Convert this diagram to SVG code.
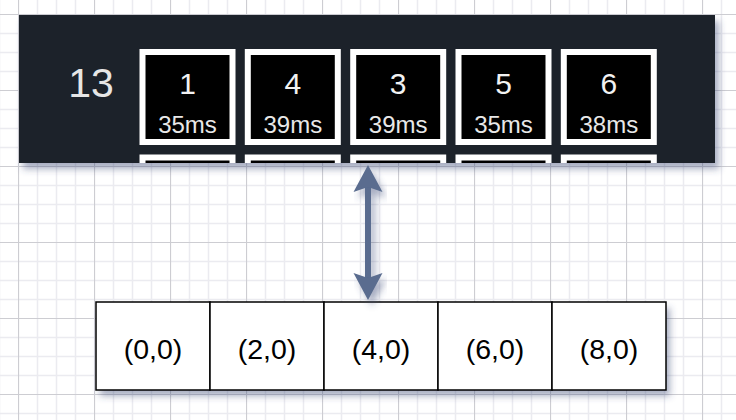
<svg xmlns="http://www.w3.org/2000/svg" width="736" height="420" viewBox="0 0 736 420">
  <style>
    .cell { fill: #ffffff; stroke: #000000; stroke-width: 1.5; }
    .ctext { font-family: "Liberation Sans", Arial, sans-serif; font-size: 28.5px; fill: #000000; text-anchor: middle; }
    .tile { fill: #000000; stroke: #ffffff; stroke-width: 6; }
    .num { font-family: "Liberation Sans", Arial, sans-serif; font-size: 30px; fill: #f2f2f2; text-anchor: middle; }
    .ms { font-family: "Liberation Sans", Arial, sans-serif; font-size: 24px; fill: #e8e8e8; text-anchor: middle; }
    .conn { stroke: #5a6c8f; stroke-width: 6; fill: none; }
  </style>
  <defs>
    <pattern id="grid" patternUnits="userSpaceOnUse" x="18" y="14" width="76" height="76">
      <rect width="76" height="76" fill="#ffffff"/>
      <path d="M19.5 0V76M38.5 0V76M57.5 0V76M0 19.5H76M0 38.5H76M0 57.5H76" stroke="#ebebf0" stroke-width="1.5"/>
      <path d="M0.5 0V76M0 0.5H76" stroke="#cdcdd2" stroke-width="1.2"/>
    </pattern>
    <filter id="shadow" x="-10%" y="-20%" width="125%" height="150%">
      <feGaussianBlur in="SourceAlpha" stdDeviation="3.5"/>
      <feOffset dx="4" dy="6" result="b"/>
      <feFlood flood-color="#3c4a78" flood-opacity="0.45"/>
      <feComposite in2="b" operator="in"/>
      <feMerge><feMergeNode/><feMergeNode in="SourceGraphic"/></feMerge>
    </filter>
    <clipPath id="panelClip"><rect x="19" y="15" width="696" height="148"/></clipPath>
  </defs>

  <rect width="736" height="420" fill="url(#grid)"/>

  <g id="panel">
    <rect x="19" y="15" width="696" height="148" fill="#1e232b" filter="url(#shadow)"/>
    <text x="91" y="97" font-family="'Liberation Sans', Arial, sans-serif" font-size="41" fill="#e6e6e6" text-anchor="middle">13</text>
    <g clip-path="url(#panelClip)">
      <g id="tile-1">
        <rect class="tile" x="142.5" y="52" width="90" height="90"/>
        <text class="num" x="187.5" y="94">1</text>
        <text class="ms" x="187.5" y="133">35ms</text>
      </g>
      <g id="tile-4">
        <rect class="tile" x="247.8" y="52" width="90" height="90"/>
        <text class="num" x="292.8" y="94">4</text>
        <text class="ms" x="292.8" y="133">39ms</text>
      </g>
      <g id="tile-3">
        <rect class="tile" x="353.2" y="52" width="90" height="90"/>
        <text class="num" x="398.2" y="94">3</text>
        <text class="ms" x="398.2" y="133">39ms</text>
      </g>
      <g id="tile-5">
        <rect class="tile" x="458.5" y="52" width="90" height="90"/>
        <text class="num" x="503.5" y="94">5</text>
        <text class="ms" x="503.5" y="133">35ms</text>
      </g>
      <g id="tile-6">
        <rect class="tile" x="563.8" y="52" width="90" height="90"/>
        <text class="num" x="608.8" y="94">6</text>
        <text class="ms" x="608.8" y="133">38ms</text>
      </g>
      <g id="row2">
        <rect class="tile" x="142.5" y="157.5" width="90" height="90"/>
        <rect class="tile" x="247.8" y="157.5" width="90" height="90"/>
        <rect class="tile" x="353.2" y="157.5" width="90" height="90"/>
        <rect class="tile" x="458.5" y="157.5" width="90" height="90"/>
        <rect class="tile" x="563.8" y="157.5" width="90" height="90"/>
      </g>
    </g>
  </g>

  <g id="cells">
    <rect x="96" y="302" width="570" height="88" fill="#ffffff" filter="url(#shadow)"/>
    <g id="cell-0"><rect class="cell" x="96" y="302" width="114" height="88"/><text class="ctext" x="153" y="358.5">(0,0)</text></g>
    <g id="cell-2"><rect class="cell" x="210" y="302" width="114" height="88"/><text class="ctext" x="267" y="358.5">(2,0)</text></g>
    <g id="cell-4"><rect class="cell" x="324" y="302" width="114" height="88"/><text class="ctext" x="381" y="358.5">(4,0)</text></g>
    <g id="cell-6"><rect class="cell" x="438" y="302" width="114" height="88"/><text class="ctext" x="495" y="358.5">(6,0)</text></g>
    <g id="cell-8"><rect class="cell" x="552" y="302" width="114" height="88"/><text class="ctext" x="609" y="358.5">(8,0)</text></g>
  </g>

  <g id="connectors" filter="url(#shadow)">
    <line class="conn" x1="368" y1="177" x2="368" y2="288"/>
    <path d="M368 165 L382.5 192 L368 187 L353.5 192 Z" fill="#5a6c8f"/>
    <path d="M368 300 L382.5 273 L368 278 L353.5 273 Z" fill="#5a6c8f"/>
  </g>
</svg>
